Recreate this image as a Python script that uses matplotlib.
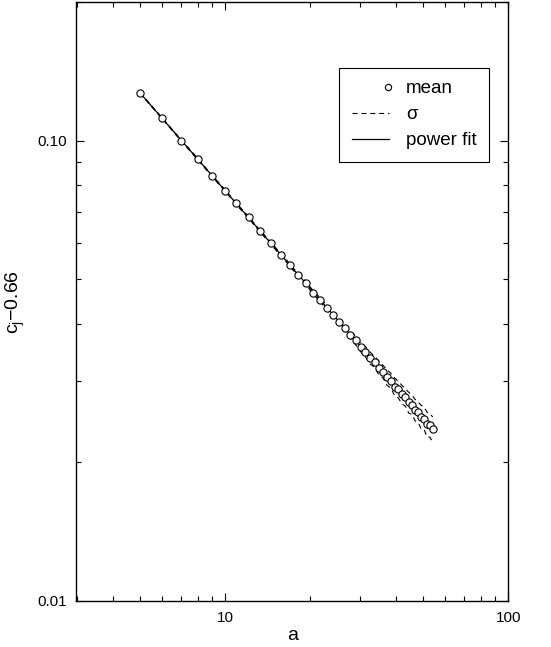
# -*- coding: utf-8 -*-

import matplotlib.pyplot as plt
from matplotlib.ticker import FixedLocator, FixedFormatter, NullFormatter
from matplotlib.legend_handler import HandlerLine2D

plt.rcParams['font.family'] = ['Liberation Sans', 'DejaVu Sans']
plt.rcParams['mathtext.default'] = 'regular'

# data
a = [5, 6, 7, 8, 9, 10, 10.9, 12.1, 13.3, 14.5, 15.7, 16.9, 18.1, 19.3, 20.5,
     21.7, 22.9, 24.1, 25.3, 26.5, 27.7, 28.9, 30.1, 31.3, 32.5, 33.7, 34.9,
     36.1, 37.3, 38.5, 39.7, 40.9, 42.1, 43.3, 44.5, 45.7, 46.9, 48.1, 49.3,
     50.5, 51.7, 52.9, 54.1]
mean = [0.1270, 0.1117, 0.1000, 0.0912, 0.0837, 0.0779, 0.0731, 0.0681,
        0.0635, 0.0599, 0.0565, 0.0538, 0.0510, 0.0490, 0.0467, 0.0451,
        0.0432, 0.0419, 0.0403, 0.0392, 0.0378, 0.0368, 0.0356, 0.0348,
        0.0337, 0.0331, 0.0321, 0.0315, 0.0306, 0.0301, 0.0292, 0.0288,
        0.0281, 0.0277, 0.0270, 0.0267, 0.0260, 0.0257, 0.0251, 0.0249,
        0.0242, 0.0241, 0.0236]
sigma = [0.0003, 0.0003, 0.0003, 0.0003, 0.0003, 0.0003, 0.0003, 0.0003,
         0.0003, 0.0003, 0.0003, 0.0003, 0.0003, 0.0004, 0.0004, 0.0004,
         0.0005, 0.0005, 0.0006, 0.0006, 0.0007, 0.0008, 0.0008, 0.0009,
         0.0010, 0.0009, 0.0011, 0.0010, 0.0012, 0.0011, 0.0013, 0.0012,
         0.0013, 0.0012, 0.0014, 0.0013, 0.0014, 0.0013, 0.0015, 0.0014,
         0.0015, 0.0014, 0.0015]
fit_a = [5, 54.1]
fit_c = [0.1270, 0.0236]

upper = [m + s for m, s in zip(mean, sigma)]
lower = [m - s for m, s in zip(mean, sigma)]


# legend marker sits at the right end of the handle
class RightMarker(HandlerLine2D):
    def get_xdata(self, legend, xdescent, ydescent, width, height, fontsize):
        x = -xdescent + width - 1
        return [x - 1, x + 1], [x]


fig = plt.figure(figsize=(5.51, 6.47), dpi=100)
ax = fig.add_axes([0.1385, 0.0711, 0.784, 0.9258])

# sigma band
ax.plot(a, upper, color="black", linestyle="--", linewidth=0.8, dashes=(4.5, 3.5))
ax.plot(a, lower, color="black", linestyle="--", linewidth=0.8, dashes=(4.5, 3.5))
# power fit
ax.plot(fit_a, fit_c, color="black", linewidth=0.9)
# mean values
ax.plot(a, mean, linestyle="none", marker="o", markersize=5.2,
        markerfacecolor="white", markeredgecolor="black", markeredgewidth=0.8)

ax.set_xscale("log")
ax.set_yscale("log")
ax.set_xlim(2.98, 100)
ax.set_ylim(0.01, 0.2)

# ticks
ax.xaxis.set_major_locator(FixedLocator([10, 100]))
ax.xaxis.set_major_formatter(FixedFormatter(["10", "100"]))
ax.xaxis.set_minor_locator(FixedLocator([3, 4, 5, 6, 7, 8, 9, 20, 30, 40, 50, 60, 70, 80, 90]))
ax.xaxis.set_minor_formatter(NullFormatter())
ax.yaxis.set_major_locator(FixedLocator([0.01, 0.1]))
ax.yaxis.set_major_formatter(FixedFormatter(["0.01", "0.10"]))
ax.yaxis.set_minor_locator(FixedLocator([0.02, 0.03, 0.04, 0.05, 0.06, 0.07, 0.08, 0.09, 0.2]))
ax.yaxis.set_minor_formatter(NullFormatter())
ax.tick_params(which="both", direction="in", top=True, right=True, width=0.8)
ax.tick_params(which="major", length=6, labelsize=11, pad=7)
ax.tick_params(which="minor", length=3.5)
for sp in ax.spines.values():
    sp.set_linewidth(1.0)

ax.set_xlabel("a", fontsize=14, labelpad=2)
ax.set_ylabel(r"c$_{j}$$-$0.66", fontsize=14, labelpad=7)

# legend
h_mean, = ax.plot([], [], linestyle="none", marker="o", markersize=4.5,
                  markerfacecolor="white", markeredgecolor="black", markeredgewidth=0.8)
h_sig, = ax.plot([], [], color="black", linestyle="--", linewidth=0.8, dashes=(4.5, 3.5))
h_fit, = ax.plot([], [], color="black", linewidth=0.9)
leg = ax.legend([h_mean, h_sig, h_fit], ["mean", "\u03c3", "power fit"],
                loc="upper right", bbox_to_anchor=(0.955, 0.89), borderaxespad=0,
                fontsize=13.5, fancybox=False, framealpha=1, edgecolor="black",
                handlelength=2.0, handletextpad=0.9, labelspacing=0.48,
                borderpad=0.65, handler_map={h_mean: RightMarker()})
leg.get_frame().set_linewidth(0.8)

plt.savefig("out.png", dpi=100)
